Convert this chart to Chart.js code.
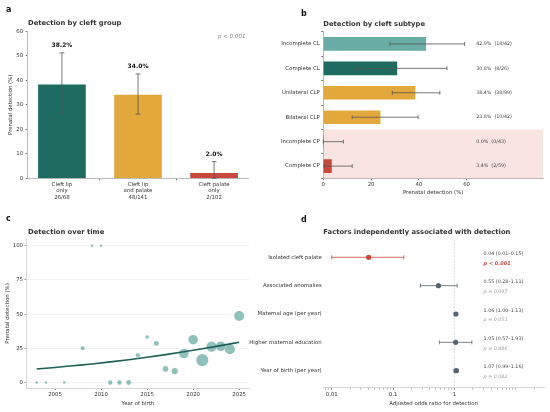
<!DOCTYPE html>
<html>
<head>
<meta charset="utf-8">
<script src="https://cdn.jsdelivr.net/npm/chart.js@4.4.0/dist/chart.umd.min.js"></script>
<style>
  body { margin: 0; background: #fff; }
  canvas { position: absolute; left: 0; top: 0; }
</style>
</head>
<body>
<canvas id="groupChart" width="550" height="412"></canvas>
<canvas id="subtypeChart" width="550" height="412"></canvas>
<canvas id="timeChart" width="550" height="412"></canvas>
<canvas id="factorChart" width="550" height="412"></canvas>
<script>
// panel a - detection by cleft group
var groupLabels = [['Cleft lip', 'only', '26/68'], ['Cleft lip', 'and palate', '48/141'], ['Cleft palate', 'only', '2/102']];
var groupDetection = [38.2, 34.0, 2.0];
var groupCiLow = [26.8, 26.2, 0.0];
var groupCiHigh = [51.2, 42.6, 6.8];
var groupTicks = [0, 10, 20, 30, 40, 50, 60];

// panel b - detection by cleft subtype
var subtypeLabels = ['Incomplete CL', 'Complete CL', 'Unilateral CLP', 'Bilateral CLP', 'Incomplete CP', 'Complete CP'];
var subtypeDetection = [42.9, 30.8, 38.4, 23.8, 0.0, 3.4];
var subtypeCiLow = [27.9, 13.9, 28.9, 12.1, 0.0, 0.3];
var subtypeCiHigh = [59.2, 51.8, 48.8, 39.7, 8.4, 12.1];
var subtypeCounts = ['18/42', '8/26', '38/99', '10/42', '0/43', '2/59'];
var subtypeGroup = ['CL', 'CL', 'CLP', 'CLP', 'CP', 'CP'];
var subtypeTicks = [0, 20, 40, 60];

// panel c - detection over time
var birthYears = [2003, 2004, 2006, 2008, 2009, 2010, 2011, 2012, 2013, 2014, 2015, 2016, 2017, 2018, 2019, 2020, 2021, 2022, 2023, 2024, 2025];
var yearDetection = [0, 0, 0, 25, 100, 100, 0, 0, 0, 20, 33.3, 28.6, 10, 8.3, 21.2, 31.3, 16.4, 26.3, 26.5, 24.3, 48.6];
var yearCases = [1, 1, 1, 4, 1, 1, 5, 5, 7, 5, 3, 7, 10, 12, 33, 32, 55, 38, 34, 37, 35];
var trendYears = [2003, 2005, 2007, 2009, 2011, 2013, 2015, 2017, 2019, 2021, 2023, 2025];
var trendDetection = [9.9, 11.0, 12.3, 13.6, 15.1, 16.7, 18.5, 20.4, 22.5, 24.7, 27.0, 29.4];
var yearTicks = [2005, 2010, 2015, 2020, 2025];
var timeTicks = [0, 25, 50, 75, 100];

// panel d - adjusted odds ratios
var factorLabels = ['Isolated cleft palate', 'Associated anomalies', 'Maternal age (per year)', 'Higher maternal education', 'Year of birth (per year)'];
var factorOR = [0.04, 0.55, 1.06, 1.05, 1.07];
var factorLow = [0.01, 0.28, 1.00, 0.57, 0.99];
var factorHigh = [0.15, 1.11, 1.13, 1.93, 1.16];
var factorP = ['p < 0.001', 'p = 0.097', 'p = 0.053', 'p = 0.886', 'p = 0.082'];
var oddsTicks = [0.01, 0.1, 1];

// colours
var tealDark = '#1e6b61', tealLight = '#6aaca6', amber = '#e3a83b', red = '#c8493c';
var greyInk = '#5b646c', textInk = '#333333';
var FONT = '"DejaVu Sans", sans-serif';

Chart.defaults.font.family = FONT;
Chart.defaults.font.size = 5.4;
Chart.defaults.color = textInk;
Chart.defaults.animation = false;
Chart.defaults.plugins.legend.display = false;
Chart.defaults.plugins.tooltip.enabled = false;

function fixedTicks(list) {
  return function (scale) {
    scale.ticks = list.map(function (v) { return { value: v }; });
  };
}

function drawText(ctx, text, x, y, font, color, align, baseline) {
  ctx.save();
  ctx.font = font;
  ctx.fillStyle = color;
  ctx.textAlign = align || 'left';
  ctx.textBaseline = baseline || 'alphabetic';
  ctx.fillText(text, x, y);
  ctx.restore();
}

// error bars from the ci arrays, drawn on the dataset elements
function makeErrorBars(low, high, colors, horizontal, cap) {
  return {
    id: 'errorBars',
    afterDatasetsDraw: function (chart) {
      var ctx = chart.ctx;
      var scale = horizontal ? chart.scales.x : chart.scales.y;
      var meta = chart.getDatasetMeta(chart.data.datasets.length - 1);
      ctx.save();
      ctx.lineWidth = 0.8;
      meta.data.forEach(function (el, i) {
        var a = scale.getPixelForValue(low[i]);
        var b = scale.getPixelForValue(high[i]);
        ctx.strokeStyle = Array.isArray(colors) ? colors[i] : colors;
        ctx.beginPath();
        if (horizontal) {
          ctx.moveTo(a, el.y); ctx.lineTo(b, el.y);
          ctx.moveTo(a, el.y - cap); ctx.lineTo(a, el.y + cap);
          ctx.moveTo(b, el.y - cap); ctx.lineTo(b, el.y + cap);
        } else {
          ctx.moveTo(el.x, a); ctx.lineTo(el.x, b);
          ctx.moveTo(el.x - cap, a); ctx.lineTo(el.x + cap, a);
          ctx.moveTo(el.x - cap, b); ctx.lineTo(el.x + cap, b);
        }
        ctx.stroke();
      });
      ctx.restore();
    }
  };
}

// ---------- a ----------
var groupPoints = groupDetection.map(function (v, i) { return { x: i, y: v }; });

new Chart(document.getElementById('groupChart'), {
  type: 'bar',
  data: {
    datasets: [{ data: groupPoints, backgroundColor: [tealDark, amber, red], barThickness: 47 }]
  },
  options: {
    responsive: false,
    layout: { padding: { left: 0, top: 31.3, right: 301.7, bottom: 208.7 } },
    scales: {
      x: {
        type: 'linear', min: -0.45, max: 2.45, offset: false,
        afterBuildTicks: fixedTicks(groupLabels.map(function (l, i) { return i; })),
        grid: { drawOnChartArea: false, tickLength: 2, tickColor: '#777' },
        border: { color: '#aaa', width: 0.8 },
        ticks: { padding: 1, font: { size: 5.4 }, callback: function (v) { return groupLabels[v]; } },
        afterFit: function (s) { s.height = 25; }
      },
      y: {
        min: 0, max: 60,
        afterBuildTicks: fixedTicks(groupTicks),
        grid: { drawOnChartArea: false, tickLength: 2, tickColor: '#777' },
        border: { color: '#aaa', width: 0.8 },
        ticks: { padding: 2.5 },
        title: { display: true, text: 'Prenatal detection (%)', padding: { top: 7.8, bottom: 0 }, font: { size: 5.4 } },
        afterFit: function (s) { s.width = 27.7; }
      }
    }
  },
  plugins: [makeErrorBars(groupCiLow, groupCiHigh, '#555', false, 2.4), {
    id: 'groupText',
    afterDraw: function (chart) {
      var ctx = chart.ctx, y = chart.scales.y;
      drawText(ctx, 'a', 6, 11.7, 'bold 8px ' + FONT, '#111');
      drawText(ctx, 'Detection by cleft group', 28, 25.3, 'bold 6.8px ' + FONT, textInk);
      drawText(ctx, 'p < 0.001', 245.5, 38.2, 'italic 5.6px ' + FONT, '#888', 'right');
      chart.getDatasetMeta(0).data.forEach(function (bar, i) {
        drawText(ctx, groupDetection[i].toFixed(1) + '%', bar.x, y.getPixelForValue(groupCiHigh[i]) - 5.5,
          'bold 6px ' + FONT, '#111', 'center');
      });
    }
  }]
});

// ---------- b ----------
var subtypeColors = subtypeGroup.map(function (g, i) {
  if (g === 'CL') return i === 0 ? tealLight : tealDark;
  return g === 'CLP' ? amber : red;
});

new Chart(document.getElementById('subtypeChart'), {
  type: 'bar',
  data: {
    labels: subtypeLabels,
    datasets: [{ data: subtypeDetection, backgroundColor: subtypeColors, barThickness: 13 }]
  },
  options: {
    responsive: false,
    indexAxis: 'y',
    layout: { padding: { left: 250, top: 31.7, right: 7, bottom: 213.7 } },
    scales: {
      x: {
        min: 0, max: 92,
        afterBuildTicks: fixedTicks(subtypeTicks),
        grid: { drawOnChartArea: false, tickLength: 2, tickColor: '#777' },
        border: { color: '#aaa', width: 0.8 },
        ticks: { padding: 1.5 },
        title: { display: true, text: 'Prenatal detection (%)', padding: { top: 0, bottom: 2.4 }, font: { size: 5.4 } },
        afterFit: function (s) { s.height = 20; }
      },
      y: {
        grid: { drawOnChartArea: false, tickLength: 2, tickColor: '#777' },
        border: { color: '#aaa', width: 0.8 },
        ticks: { padding: 1.5 },
        afterFit: function (s) { s.width = 73.3; }
      }
    }
  },
  plugins: [{
    id: 'cpBand',
    beforeDraw: function (chart) {
      var y = chart.scales.y, area = chart.chartArea;
      var rows = [];
      subtypeGroup.forEach(function (g, i) { if (g === 'CP') rows.push(i); });
      var top = y.getPixelForValue(rows[0] - 0.5);
      var bottom = y.getPixelForValue(rows[rows.length - 1] + 0.5);
      chart.ctx.save();
      chart.ctx.fillStyle = '#f9e4e1';
      chart.ctx.fillRect(area.left, top, area.right - area.left, bottom - top);
      chart.ctx.restore();
    }
  }, makeErrorBars(subtypeCiLow, subtypeCiHigh, '#555', true, 2), {
    id: 'subtypeText',
    afterDraw: function (chart) {
      var ctx = chart.ctx, x = chart.scales.x;
      drawText(ctx, 'b', 301, 16, 'bold 8px ' + FONT, '#111');
      drawText(ctx, 'Detection by cleft subtype', 323.3, 25.7, 'bold 6.8px ' + FONT, textInk);
      chart.getDatasetMeta(0).data.forEach(function (bar, i) {
        drawText(ctx, subtypeDetection[i].toFixed(1) + '%  (' + subtypeCounts[i] + ')', x.getPixelForValue(64), bar.y,
          '4.8px ' + FONT, '#444', 'left', 'middle');
      });
    }
  }]
});

// ---------- c ----------
var bubblePoints = birthYears.map(function (yr, i) { return { x: yr, y: yearDetection[i] }; });
var trendPoints = trendYears.map(function (yr, i) { return { x: yr, y: trendDetection[i] }; });

new Chart(document.getElementById('timeChart'), {
  type: 'scatter',
  data: {
    datasets: [{
      data: trendPoints, showLine: true, borderColor: '#1c5f58', borderWidth: 1.6,
      pointRadius: 0, cubicInterpolationMode: 'monotone', order: 0
    }, {
      data: bubblePoints, backgroundColor: 'rgba(111,174,168,0.78)', borderWidth: 0,
      pointRadius: function (c) { return 0.5 + 0.75 * Math.sqrt(yearCases[c.dataIndex]); },
      order: 1
    }]
  },
  options: {
    responsive: false,
    layout: { padding: { left: 0, top: 238.9, right: 300.7, bottom: 4 } },
    scales: {
      x: {
        min: 2001.9, max: 2026.1,
        afterBuildTicks: fixedTicks(yearTicks),
        grid: { drawOnChartArea: false, tickLength: 2, tickColor: '#777' },
        border: { color: '#ccc', width: 0.8 },
        ticks: { padding: 1.8, callback: function (v) { return String(v); } },
        title: { display: true, text: 'Year of birth', padding: { top: 0, bottom: 1.5 }, font: { size: 5.4 } },
        afterFit: function (s) { s.height = 20; }
      },
      y: {
        min: -4, max: 105,
        afterBuildTicks: fixedTicks(timeTicks),
        grid: { color: '#eeeeee', lineWidth: 0.7, tickLength: 2, tickColor: '#777' },
        border: { color: '#ccc', width: 0.8 },
        ticks: { padding: 1.5 },
        title: { display: true, text: 'Prenatal detection (%)', padding: { top: 4.1, bottom: 0 }, font: { size: 5.4 } },
        afterFit: function (s) { s.width = 26.5; }
      }
    }
  },
  plugins: [{
    id: 'timeText',
    afterDraw: function (chart) {
      var ctx = chart.ctx;
      drawText(ctx, 'c', 6, 221, 'bold 8px ' + FONT, '#111');
      drawText(ctx, 'Detection over time', 28, 234.3, 'bold 6.8px ' + FONT, textInk);
    }
  }]
});

// ---------- d ----------
var oddsMin = 0.0072, oddsMax = 29;
var oddsTickList = [];
[0.001, 0.01, 0.1, 1, 10].forEach(function (decade) {
  for (var k = 1; k <= 9; k++) {
    var v = +(k * decade).toPrecision(3);
    if (v >= oddsMin && v <= oddsMax) oddsTickList.push(v);
  }
});
var factorColors = factorLabels.map(function (l, i) { return i === 0 ? red : greyInk; });
var factorPoints = factorOR.map(function (or, i) { return { x: or, y: i }; });

new Chart(document.getElementById('factorChart'), {
  type: 'scatter',
  data: {
    datasets: [{ data: factorPoints, backgroundColor: factorColors, borderWidth: 0, pointRadius: 2.6 }]
  },
  options: {
    responsive: false,
    layout: { padding: { left: 225, top: 240.3, right: 6, bottom: 4.3 } },
    scales: {
      x: {
        type: 'logarithmic', min: oddsMin, max: oddsMax,
        afterBuildTicks: fixedTicks(oddsTickList),
        grid: {
          drawOnChartArea: false, tickLength: 2,
          tickColor: function (c) { return c.tick && oddsTicks.indexOf(c.tick.value) >= 0 ? '#777' : '#bbb'; }
        },
        border: { color: '#ccc', width: 0.8 },
        ticks: {
          padding: 2, autoSkip: false, maxRotation: 0,
          callback: function (v) { return oddsTicks.indexOf(v) >= 0 ? String(v) : ''; }
        },
        title: { display: true, text: 'Adjusted odds ratio for detection', padding: { top: 0, bottom: 1.2 }, font: { size: 5.4 } },
        afterFit: function (s) { s.height = 20; }
      },
      y: {
        reverse: true, min: -0.6, max: 4.6,
        afterBuildTicks: fixedTicks(factorLabels.map(function (l, i) { return i; })),
        grid: { display: false, drawTicks: false },
        border: { display: false },
        ticks: { padding: 1.3, callback: function (v) { return factorLabels[v]; } },
        afterFit: function (s) { s.width = 98; }
      }
    }
  },
  plugins: [{
    id: 'nullLine',
    beforeDatasetsDraw: function (chart) {
      var ctx = chart.ctx, px = chart.scales.x.getPixelForValue(1), area = chart.chartArea;
      ctx.save();
      ctx.strokeStyle = '#bbb';
      ctx.lineWidth = 0.7;
      ctx.setLineDash([1.5, 1.5]);
      ctx.beginPath();
      ctx.moveTo(px, area.top);
      ctx.lineTo(px, area.bottom);
      ctx.stroke();
      ctx.restore();
    }
  }, makeErrorBars(factorLow, factorHigh, factorColors, true, 2), {
    id: 'factorText',
    afterDraw: function (chart) {
      var ctx = chart.ctx, x = chart.scales.x.getPixelForValue(3);
      drawText(ctx, 'd', 301, 221.5, 'bold 8px ' + FONT, '#111');
      drawText(ctx, 'Factors independently associated with detection', 323.3, 234.3, 'bold 6.8px ' + FONT, textInk);
      chart.getDatasetMeta(0).data.forEach(function (pt, i) {
        var ci = factorOR[i].toFixed(2) + ' (' + factorLow[i].toFixed(2) + '\u2013' + factorHigh[i].toFixed(2) + ')';
        drawText(ctx, ci, x, pt.y - 3.5, '4.8px ' + FONT, '#444', 'left', 'middle');
        if (i === 0) {
          drawText(ctx, factorP[i], x, pt.y + 6, 'bold italic 5px ' + FONT, red, 'left', 'middle');
        } else {
          drawText(ctx, factorP[i], x, pt.y + 6, 'italic 4.8px ' + FONT, '#999', 'left', 'middle');
        }
      });
    }
  }]
});
</script>
</body>
</html>
